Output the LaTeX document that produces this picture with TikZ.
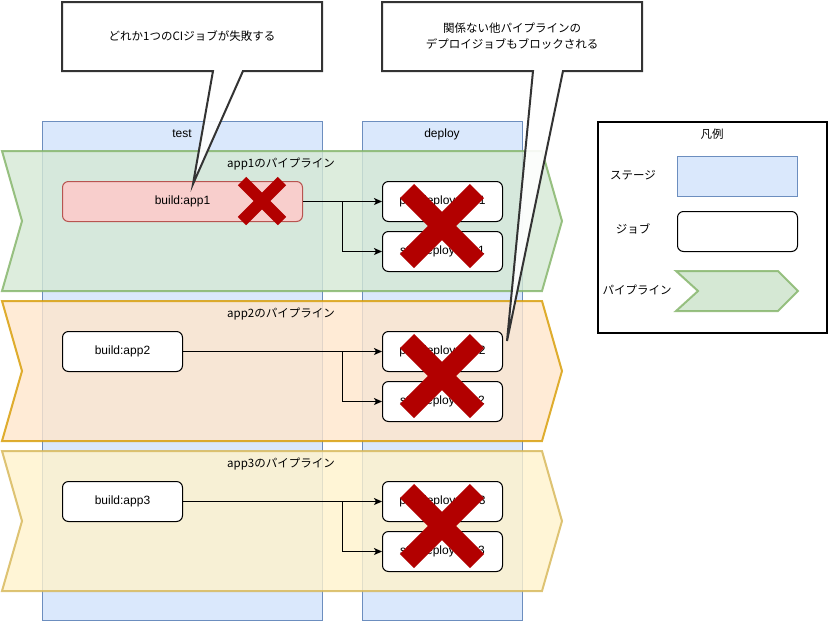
\documentclass[tikz,border=0pt]{standalone}
\usepackage{fontspec}
\setmainfont{Liberation Sans}
\newfontfamily\jp{Noto Sans CJK JP}
\usetikzlibrary{arrows.meta,calc}
\definecolor{stagefill}{HTML}{DAE8FC}
\definecolor{stagedraw}{HTML}{6C8EBF}
\definecolor{greenfill}{HTML}{D5E8D4}
\definecolor{greendraw}{HTML}{82B366}
\definecolor{orangefill}{HTML}{FFE6CC}
\definecolor{orangedraw}{HTML}{D79B00}
\definecolor{yellowfill}{HTML}{FFF2CC}
\definecolor{yellowdraw}{HTML}{D6B656}
\definecolor{redfill}{HTML}{F8CECC}
\definecolor{reddraw}{HTML}{B85450}
\definecolor{xred}{HTML}{B20000}
\definecolor{calloutdraw}{HTML}{333333}
\tikzset{
  txt/.style={font=\fontsize{12}{14}\selectfont, inner sep=0pt},
  jtxt/.style={font=\jp\fontsize{11.5}{16}\selectfont, inner sep=0pt, align=center},
  stagebox/.style={draw=stagedraw, fill=stagefill, line width=1pt, anchor=north west, inner sep=0pt},
  jobbox/.style={draw=black, fill=white, line width=1pt, rounded corners=6pt, anchor=north west, inner sep=0pt, minimum height=40pt, font=\fontsize{12}{14}\selectfont},
  failbox/.style={jobbox, draw=reddraw, fill=redfill},
  pipeg/.style={draw=greendraw, fill=greenfill, opacity=0.8, line width=2pt, line join=miter},
  pipeo/.style={draw=orangedraw, fill=orangefill, opacity=0.8, line width=2pt, line join=miter},
  pipey/.style={draw=yellowdraw, fill=yellowfill, opacity=0.8, line width=2pt, line join=miter},
  callout/.style={draw=calloutdraw, fill=white, fill opacity=0.9, line width=2pt, line join=miter},
  arr/.style={-{Stealth[length=8pt,width=7pt,inset=2pt]}, line width=1pt, draw=black},
  pics/redx/.style 2 args={code={\draw[draw=xred, line width=#2] (-#1,-#1) -- (#1,#1) (-#1,#1) -- (#1,-#1);}}
}
\begin{document}
\begin{tikzpicture}[x=1pt, y=-1pt]
\useasboundingbox (0,0) rectangle (828,622);
% stages
\node[stagebox, minimum width=280pt, minimum height=499pt] (stTest) at (42,121) {};
\node[stagebox, minimum width=160pt, minimum height=499pt] (stDeploy) at (362,121) {};
\node[txt] (stTestL) at (182,134) {test};
\node[txt] (stDeployL) at (442,134) {deploy};
% pipelines
\draw[pipeg] (2,151) -- (542,151) -- (562,221) -- (542,291) -- (2,291) -- (22,221) -- cycle;
\draw[pipeo] (2,301) -- (542,301) -- (562,371) -- (542,441) -- (2,441) -- (22,371) -- cycle;
\draw[pipey] (2,451) -- (542,451) -- (562,521) -- (542,591) -- (2,591) -- (22,521) -- cycle;
\node[jtxt] (p1L) at (281,164) {app1のパイプライン};
\node[jtxt] (p2L) at (281,314) {app2のパイプライン};
\node[jtxt] (p3L) at (281,464) {app3のパイプライン};
% jobs
\node[failbox, minimum width=240pt] (b1) at (62,181) {build:app1};
\node[jobbox, minimum width=120pt] (b2) at (62,331) {build:app2};
\node[jobbox, minimum width=120pt] (b3) at (62,481) {build:app3};
\node[jobbox, minimum width=120pt] (pd1) at (382,181) {prd:deploy:app1};
\node[jobbox, minimum width=120pt] (sd1) at (382,231) {stg:deploy:app1};
\node[jobbox, minimum width=120pt] (pd2) at (382,331) {prd:deploy:app2};
\node[jobbox, minimum width=120pt] (sd2) at (382,381) {stg:deploy:app2};
\node[jobbox, minimum width=120pt] (pd3) at (382,481) {prd:deploy:app3};
\node[jobbox, minimum width=120pt] (sd3) at (382,531) {stg:deploy:app3};
% connectors
\coordinate (j1) at (342,201);
\coordinate (j2) at (342,351);
\coordinate (j3) at (342,501);
\draw[arr] (b1.east) -- (pd1.west);
\draw[arr] (j1) |- (sd1.west);
\draw[arr] (b2.east) -- (pd2.west);
\draw[arr] (j2) |- (sd2.west);
\draw[arr] (b3.east) -- (pd3.west);
\draw[arr] (j3) |- (sd3.west);
% X marks
\pic at (262,201) {redx={20}{12pt}};
\pic at (442,226) {redx={35}{20pt}};
\pic at (442,376) {redx={35}{20pt}};
\pic at (442,526) {redx={35}{20pt}};
% callouts
\draw[callout] (62,2) -- (322,2) -- (322,71) -- (243,71) -- (193,184) -- (213,71) -- (62,71) -- cycle;
\node[jtxt] (c1) at (192,36) {どれか1つのCIジョブが失敗する};
\draw[callout] (382,2) -- (642,2) -- (642,71) -- (563,71) -- (507,341) -- (533,71) -- (382,71) -- cycle;
\node[jtxt] (c2) at (512,36) {関係ない他パイプラインの\\デプロイジョブもブロックされる};
% legend
\node[draw=black, line width=1.5pt, anchor=north west, minimum width=229pt, minimum height=211pt, inner sep=0pt] (leg) at (597,121) {};
\node[jtxt] (legT) at (712,134) {凡例};
\node[jtxt] (legSL) at (633,175) {ステージ};
\node[stagebox, minimum width=120pt, minimum height=40pt] (legS) at (677,156) {};
\node[jtxt] (legJL) at (633,229) {ジョブ};
\node[jobbox, minimum width=120pt] (legJ) at (677,211) {};
\node[jtxt] (legPL) at (637,290) {パイプライン};
\draw[draw=greendraw, fill=greenfill, line width=2pt, line join=miter, draw opacity=0.8] (676,271) -- (778,271) -- (798,291) -- (778,311) -- (676,311) -- (698,291) -- cycle;
\end{tikzpicture}
\end{document}
